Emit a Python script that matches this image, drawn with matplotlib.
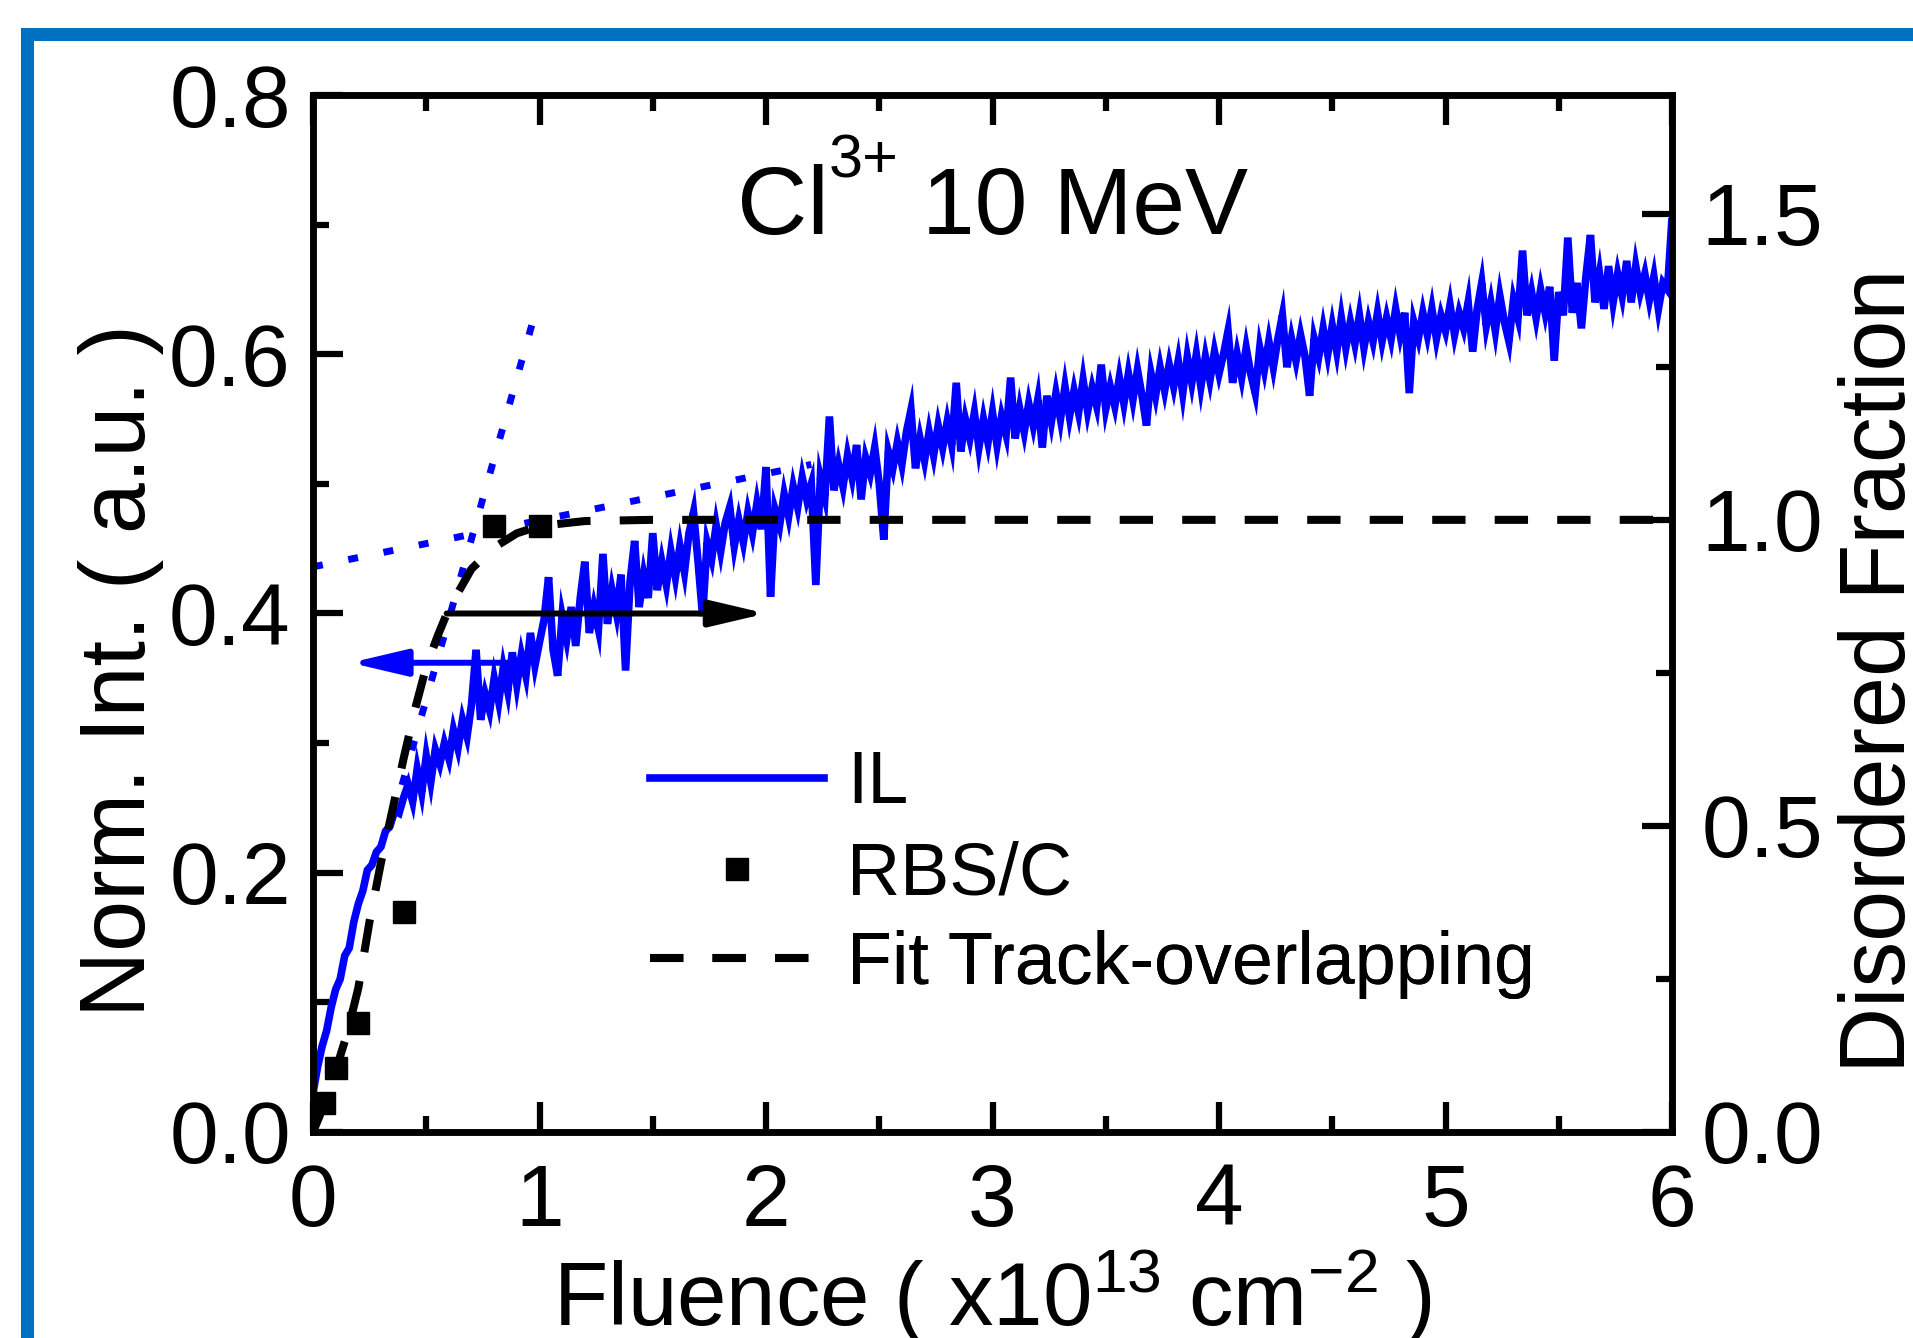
import numpy as np
import matplotlib
matplotlib.use('Agg')
import matplotlib.pyplot as plt
from matplotlib.patches import Rectangle
from matplotlib.ticker import MultipleLocator

plt.rcParams['font.family'] = ['Liberation Sans', 'DejaVu Sans']
plt.rcParams['mathtext.fontset'] = 'custom'
plt.rcParams['mathtext.rm'] = 'Liberation Sans'
plt.rcParams['mathtext.it'] = 'Liberation Sans:italic'
plt.rcParams['mathtext.bf'] = 'Liberation Sans:bold'
plt.rcParams['lines.scale_dashes'] = False

# IL intensity (left axis), one reading every 0.02 x10^13 cm^-2
il_step = 0.02
il_y = [
    # 0.00 - 0.40
    0.030, 0.050, 0.066, 0.078, 0.096, 0.110, 0.118, 0.136, 0.142, 0.162,
    0.176, 0.186, 0.202, 0.206, 0.216, 0.220, 0.232, 0.236, 0.248, 0.246,
    0.258,
    # 0.42 - 1.00
    0.268, 0.255, 0.280, 0.262, 0.290, 0.270, 0.295, 0.284, 0.300, 0.288,
    0.310, 0.296, 0.318, 0.305, 0.330, 0.372, 0.318, 0.338, 0.325, 0.350,
    0.332, 0.358, 0.340, 0.370, 0.345, 0.368, 0.352, 0.385, 0.360, 0.378,
    # 1.02 - 2.00
    0.395, 0.428, 0.372, 0.352, 0.398, 0.380, 0.405, 0.375, 0.412, 0.440,
    0.385, 0.405, 0.388, 0.446, 0.392, 0.418, 0.400, 0.430, 0.356, 0.425,
    0.456, 0.405, 0.430, 0.412, 0.462, 0.418, 0.440, 0.422, 0.448, 0.428,
    0.452, 0.432, 0.462, 0.478, 0.440, 0.398, 0.455, 0.442, 0.468, 0.448,
    0.470, 0.482, 0.452, 0.472, 0.455, 0.478, 0.462, 0.485, 0.465, 0.513,
    # 2.02 - 3.00
    0.413, 0.480, 0.468, 0.492, 0.475, 0.498, 0.482, 0.505, 0.488, 0.500,
    0.422, 0.505, 0.490, 0.552, 0.495, 0.515, 0.498, 0.522, 0.505, 0.530,
    0.488, 0.520, 0.508, 0.528, 0.500, 0.457, 0.525, 0.512, 0.532, 0.515,
    0.540, 0.557, 0.512, 0.535, 0.518, 0.540, 0.522, 0.545, 0.528, 0.548,
    0.530, 0.578, 0.525, 0.550, 0.535, 0.555, 0.528, 0.550, 0.532, 0.555,
    # 3.02 - 4.00
    0.530, 0.552, 0.538, 0.582, 0.535, 0.558, 0.540, 0.562, 0.545, 0.565,
    0.528, 0.568, 0.548, 0.570, 0.550, 0.575, 0.552, 0.572, 0.555, 0.580,
    0.556, 0.574, 0.560, 0.592, 0.558, 0.575, 0.560, 0.582, 0.562, 0.585,
    0.565, 0.588, 0.568, 0.545, 0.585, 0.568, 0.590, 0.572, 0.592, 0.575,
    0.595, 0.570, 0.598, 0.578, 0.600, 0.575, 0.598, 0.580, 0.602, 0.585,
    # 4.02 - 5.00
    0.600, 0.618, 0.578, 0.600, 0.582, 0.605, 0.585, 0.570, 0.605, 0.588,
    0.610, 0.590, 0.612, 0.630, 0.590, 0.612, 0.595, 0.615, 0.598, 0.568,
    0.612, 0.598, 0.620, 0.600, 0.622, 0.602, 0.628, 0.605, 0.625, 0.608,
    0.630, 0.605, 0.625, 0.610, 0.632, 0.610, 0.628, 0.612, 0.635, 0.615,
    0.632, 0.570, 0.625, 0.612, 0.632, 0.615, 0.635, 0.612, 0.630, 0.618,
    # 5.02 - 6.02
    0.638, 0.615, 0.632, 0.620, 0.640, 0.602, 0.635, 0.655, 0.622, 0.640,
    0.618, 0.645, 0.625, 0.610, 0.642, 0.628, 0.680, 0.630, 0.648, 0.628,
    0.650, 0.632, 0.652, 0.595, 0.648, 0.630, 0.690, 0.632, 0.655, 0.620,
    0.660, 0.692, 0.640, 0.662, 0.635, 0.668, 0.640, 0.662, 0.645, 0.672,
    0.640, 0.668, 0.648, 0.662, 0.642, 0.660, 0.635, 0.655, 0.650, 0.705,
    0.625,
]
il_x = np.arange(len(il_y)) * il_step

# RBS/C disordered fraction (right axis)
rbs_x = [0.05, 0.1, 0.2, 0.4, 0.8, 1.0]
rbs_y = [0.047, 0.105, 0.178, 0.359, 0.99, 0.99]

# track-overlapping fit (right axis)
fit_x = [0, 0.05, 0.1, 0.15, 0.2, 0.25, 0.3, 0.35, 0.4, 0.45, 0.5, 0.55,
         0.6, 0.7, 0.8, 0.9, 1.0, 1.2, 1.5, 2.0, 6.0]
fit_y = [0, 0.045, 0.10, 0.16, 0.235, 0.345, 0.44, 0.525, 0.61, 0.69, 0.76,
         0.81, 0.855, 0.92, 0.955, 0.978, 0.99, 0.998, 1.0, 1.0, 1.0]

# linear guides to the IL curve (left axis)
slow_x = [0.0, 2.2]
slow_y = [0.436, 0.515]
fast_x = [0.35, 0.97]
fast_y = [0.241, 0.625]

legend_labels = ['IL', 'RBS/C', 'Fit Track-overlapping']

BLUE = '#0000FF'

fig = plt.figure(figsize=(19.13, 13.38), dpi=100)
ax = fig.add_axes([313 / 1913, 1 - 1132 / 1338, 1359 / 1913, 1037 / 1338])
ax2 = ax.twinx()

ax.plot(slow_x, slow_y, color=BLUE, lw=5, dashes=(7.2, 18.7), zorder=1)
ax.plot(fast_x, fast_y, color=BLUE, lw=5, dashes=(7.2, 18.7), zorder=1)
il_line, = ax.plot(il_x, il_y, color=BLUE, lw=5.5, solid_joinstyle='miter',
                   label='IL', zorder=2)

ax.annotate('', xy=(0.165, 0.362), xytext=(0.90, 0.362),
            arrowprops=dict(arrowstyle='-|>,head_length=34,head_width=8',
                            mutation_scale=1, lw=4.3, color=BLUE,
                            shrinkA=0, shrinkB=0), zorder=4)
ax.annotate('', xy=(2.0, 0.40), xytext=(0.59, 0.40),
            arrowprops=dict(arrowstyle='-|>,head_length=34,head_width=8',
                            mutation_scale=1, lw=4.3, color='black',
                            shrinkA=0, shrinkB=0), zorder=5)

fit_line, = ax2.plot(fit_x, fit_y, color='black', lw=5.8, dashes=(24, 21),
                     label='Fit Track-overlapping')
rbs_pts, = ax2.plot(rbs_x, rbs_y, 's', color='black', ms=16.5, ls='none',
                    label='RBS/C')

ax.set_xlim(0, 6)
ax.set_ylim(0, 0.8)
ax2.set_ylim(0, 1.694)

ax.xaxis.set_major_locator(MultipleLocator(1))
ax.xaxis.set_minor_locator(MultipleLocator(0.5))
ax.yaxis.set_major_locator(MultipleLocator(0.2))
ax.yaxis.set_minor_locator(MultipleLocator(0.1))
ax2.yaxis.set_major_locator(MultipleLocator(0.5))
ax2.yaxis.set_minor_locator(MultipleLocator(0.25))

ax.tick_params(axis='both', which='both', direction='in', width=4.5,
               labelsize=63, top=True, bottom=True, left=True, right=False)
ax.tick_params(axis='both', which='major', length=21.6)
ax.tick_params(axis='both', which='minor', length=11.5)
ax.tick_params(axis='x', which='major', pad=22)
ax.tick_params(axis='y', which='major', pad=16)
ax2.tick_params(axis='y', which='both', direction='in', width=4.5,
                labelsize=63, right=True, left=False)
ax2.tick_params(axis='y', which='major', length=21.6, pad=21)
ax2.tick_params(axis='y', which='minor', length=11.5)

for a in (ax, ax2):
    for sp in a.spines.values():
        sp.set_linewidth(4.7)

ax.set_xlabel('Fluence ( x10$^{13}$ cm$^{-2}$ )', fontsize=64)
ax.xaxis.label.set_va('baseline')
ax.xaxis.set_label_coords(0.5, -0.187)
ax.set_ylabel('Norm. Int. ( a.u. )', fontsize=66)
ax.yaxis.set_label_coords(-0.110, 0.445)
ax2.set_ylabel('Disordered Fraction', fontsize=66)
ax2.yaxis.set_label_coords(1.122, 0.445)

# title: Cl^3+ 10 MeV, built from three pieces so the superscript sits tight
title_y = 0.866
t_cl = ax.text(0.312, title_y, 'Cl', transform=ax.transAxes,
               ha='left', va='baseline', fontsize=70)
t_sup = ax.annotate('3+', xy=(1, title_y), xycoords=(t_cl, 'axes fraction'),
                    xytext=(0, 41), textcoords='offset points',
                    ha='left', va='baseline', fontsize=44)
ax.annotate('10 MeV', xy=(1, title_y), xycoords=(t_sup, 'axes fraction'),
            xytext=(17, 0), textcoords='offset points',
            ha='left', va='baseline', fontsize=68)

# legend: one entry per row, rows placed at the reference spacing
legend_rows = [0.3356, 0.2478, 0.162]
for handle, label, row_y in zip([il_line, rbs_pts, fit_line],
                                legend_labels, legend_rows):
    leg = ax2.legend([handle], [label], loc='center left',
                     bbox_to_anchor=(0.248, row_y), frameon=False,
                     fontsize=53, handlelength=2.36, handletextpad=0.32,
                     borderpad=0, borderaxespad=0, numpoints=1)
    ax2.add_artist(leg)

# blue frame around the panel (runs off the right and bottom edges)
fig.add_artist(Rectangle((27 / 1913, -0.5), 1.5, (1 - 34 / 1338) + 0.5,
                         transform=fig.transFigure, fill=False,
                         edgecolor='#0070C0', lw=9.4, clip_on=False))

fig.savefig('out.png', dpi=100)
